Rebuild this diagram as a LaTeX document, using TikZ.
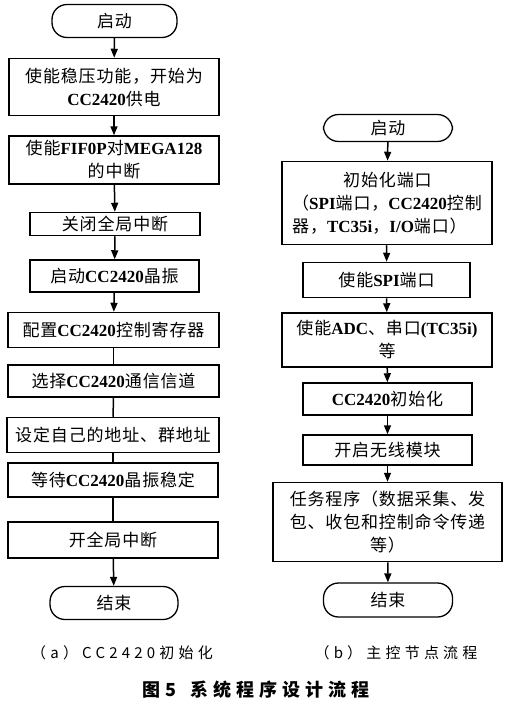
\documentclass[tikz,border=0pt]{standalone}
\usepackage{fontspec}
\setmainfont{Noto Sans CJK SC}[LetterSpace=5]
\newfontfamily\latf{Liberation Serif}
\newfontfamily\capf{Noto Sans CJK SC}[LetterSpace=28]
\newcommand\latn[1]{{\latf\bfseries #1}}
\usetikzlibrary{arrows.meta}
\tikzset{
  bx/.style={draw, line width=1.5pt, inner sep=0pt, align=center, font=\fontsize{17}{23}\selectfont},
  term/.style={draw, line width=1.3pt, inner sep=0pt, rounded corners=15pt, font=\fontsize{17}{23}\selectfont},
  arr/.style={line width=1.5pt, -{Triangle[width=7pt,length=9pt]}},
  ln/.style={line width=1.5pt},
  captxt/.style={inner sep=0pt, font=\capf\fontsize{15}{18}\selectfont}
}
\begin{document}
\begin{tikzpicture}[x=1pt,y=-1pt]
\useasboundingbox (0,0) rectangle (505,709);
% left column
\node[term, minimum width=125pt, minimum height=33pt] (s1) at (114.5,21) {启动};
\node[bx, minimum width=210pt, minimum height=57pt] (a1) at (114,87) {使能稳压功能，开始为\\\latn{CC2420}供电};
\node[bx, minimum width=210pt, minimum height=48pt] (a2) at (114,160) {使能\latn{FIF0P}对\latn{MEGA128}\\的中断};
\node[bx, minimum width=170pt, minimum height=23pt] (a3) at (115,224) {关闭全局中断};
\node[bx, minimum width=169pt, minimum height=32pt] (a4) at (114.5,276) {启动\latn{CC2420}晶振};
\node[bx, minimum width=211pt, minimum height=35pt] (a5) at (113.5,330) {配置\latn{CC2420}控制寄存器};
\node[bx, minimum width=211pt, minimum height=32pt] (a6) at (113.5,381) {选择\latn{CC2420}通信信道};
\node[bx, minimum width=212pt, minimum height=35pt] (a7) at (113,435) {设定自己的地址、群地址};
\node[bx, minimum width=210pt, minimum height=34pt] (a8) at (113,480) {等待\latn{CC2420}晶振稳定};
\node[bx, minimum width=210pt, minimum height=36pt] (a9) at (113,540) {开全局中断};
\node[term, minimum width=128pt, minimum height=33pt] (e1) at (114,603) {结束};
\draw[arr] (s1) -- (a1);
\draw[arr] (a1) -- (a2);
\draw[arr] (a2) -- (a3);
\draw[arr] (a3) -- (a4);
\draw[arr] (a4) -- (a5);
\draw[ln] (a5) -- (a6);
\draw[ln] (a6) -- (a7);
\draw[ln] (a7) -- (a8);
\draw[ln] (a8) -- (a9);
\draw[arr] (a9) -- (e1);
\node[captxt] (ca) at (122,653) {（a）CC2420初始化};
% right column
\node[term, minimum width=129pt, minimum height=27pt] (s2) at (388,128) {启动};
\node[bx, minimum width=210pt, minimum height=83pt, align=left] (b1) at (387,203) {\hspace*{3em}初始化端口\\（\latn{SPI}端口，\latn{CC2420}控制\\器，\latn{TC35i}，\latn{I/O}端口）};
\node[bx, minimum width=167pt, minimum height=35pt] (b2) at (386.5,280) {使能\latn{SPI}端口};
\node[bx, minimum width=210pt, minimum height=54pt] (b3) at (387,340) {使能\latn{ADC}、串口\latn{(TC35i)}\\等};
\node[bx, minimum width=169pt, minimum height=32pt] (b4) at (387.5,399) {\latn{CC2420}初始化};
\node[bx, minimum width=169pt, minimum height=30pt] (b5) at (387.5,450) {开启无线模块};
\node[bx, minimum width=229pt, minimum height=79pt] (b6) at (387.5,522) {任务程序（数据采集、发\\包、收包和控制命令传递\\等）};
\node[term, minimum width=129pt, minimum height=34pt] (e2) at (388,600) {结束};
\draw[arr] (s2) -- (b1);
\draw[arr] (b1) -- (b2);
\draw[arr] (b2) -- (b3);
\draw[arr] (b3) -- (b4);
\draw[arr] (b4) -- (b5);
\draw[arr] (b5) -- (b6);
\draw[arr] (b6) -- (e2);
\node[captxt] (cb) at (396,653) {（b）主控节点流程};
\node[inner sep=0pt, font=\capf\bfseries\fontsize{18}{20}\selectfont] (fig) at (256,690) {图5\hspace{14pt}系统程序设计流程};
\end{tikzpicture}
\end{document}
